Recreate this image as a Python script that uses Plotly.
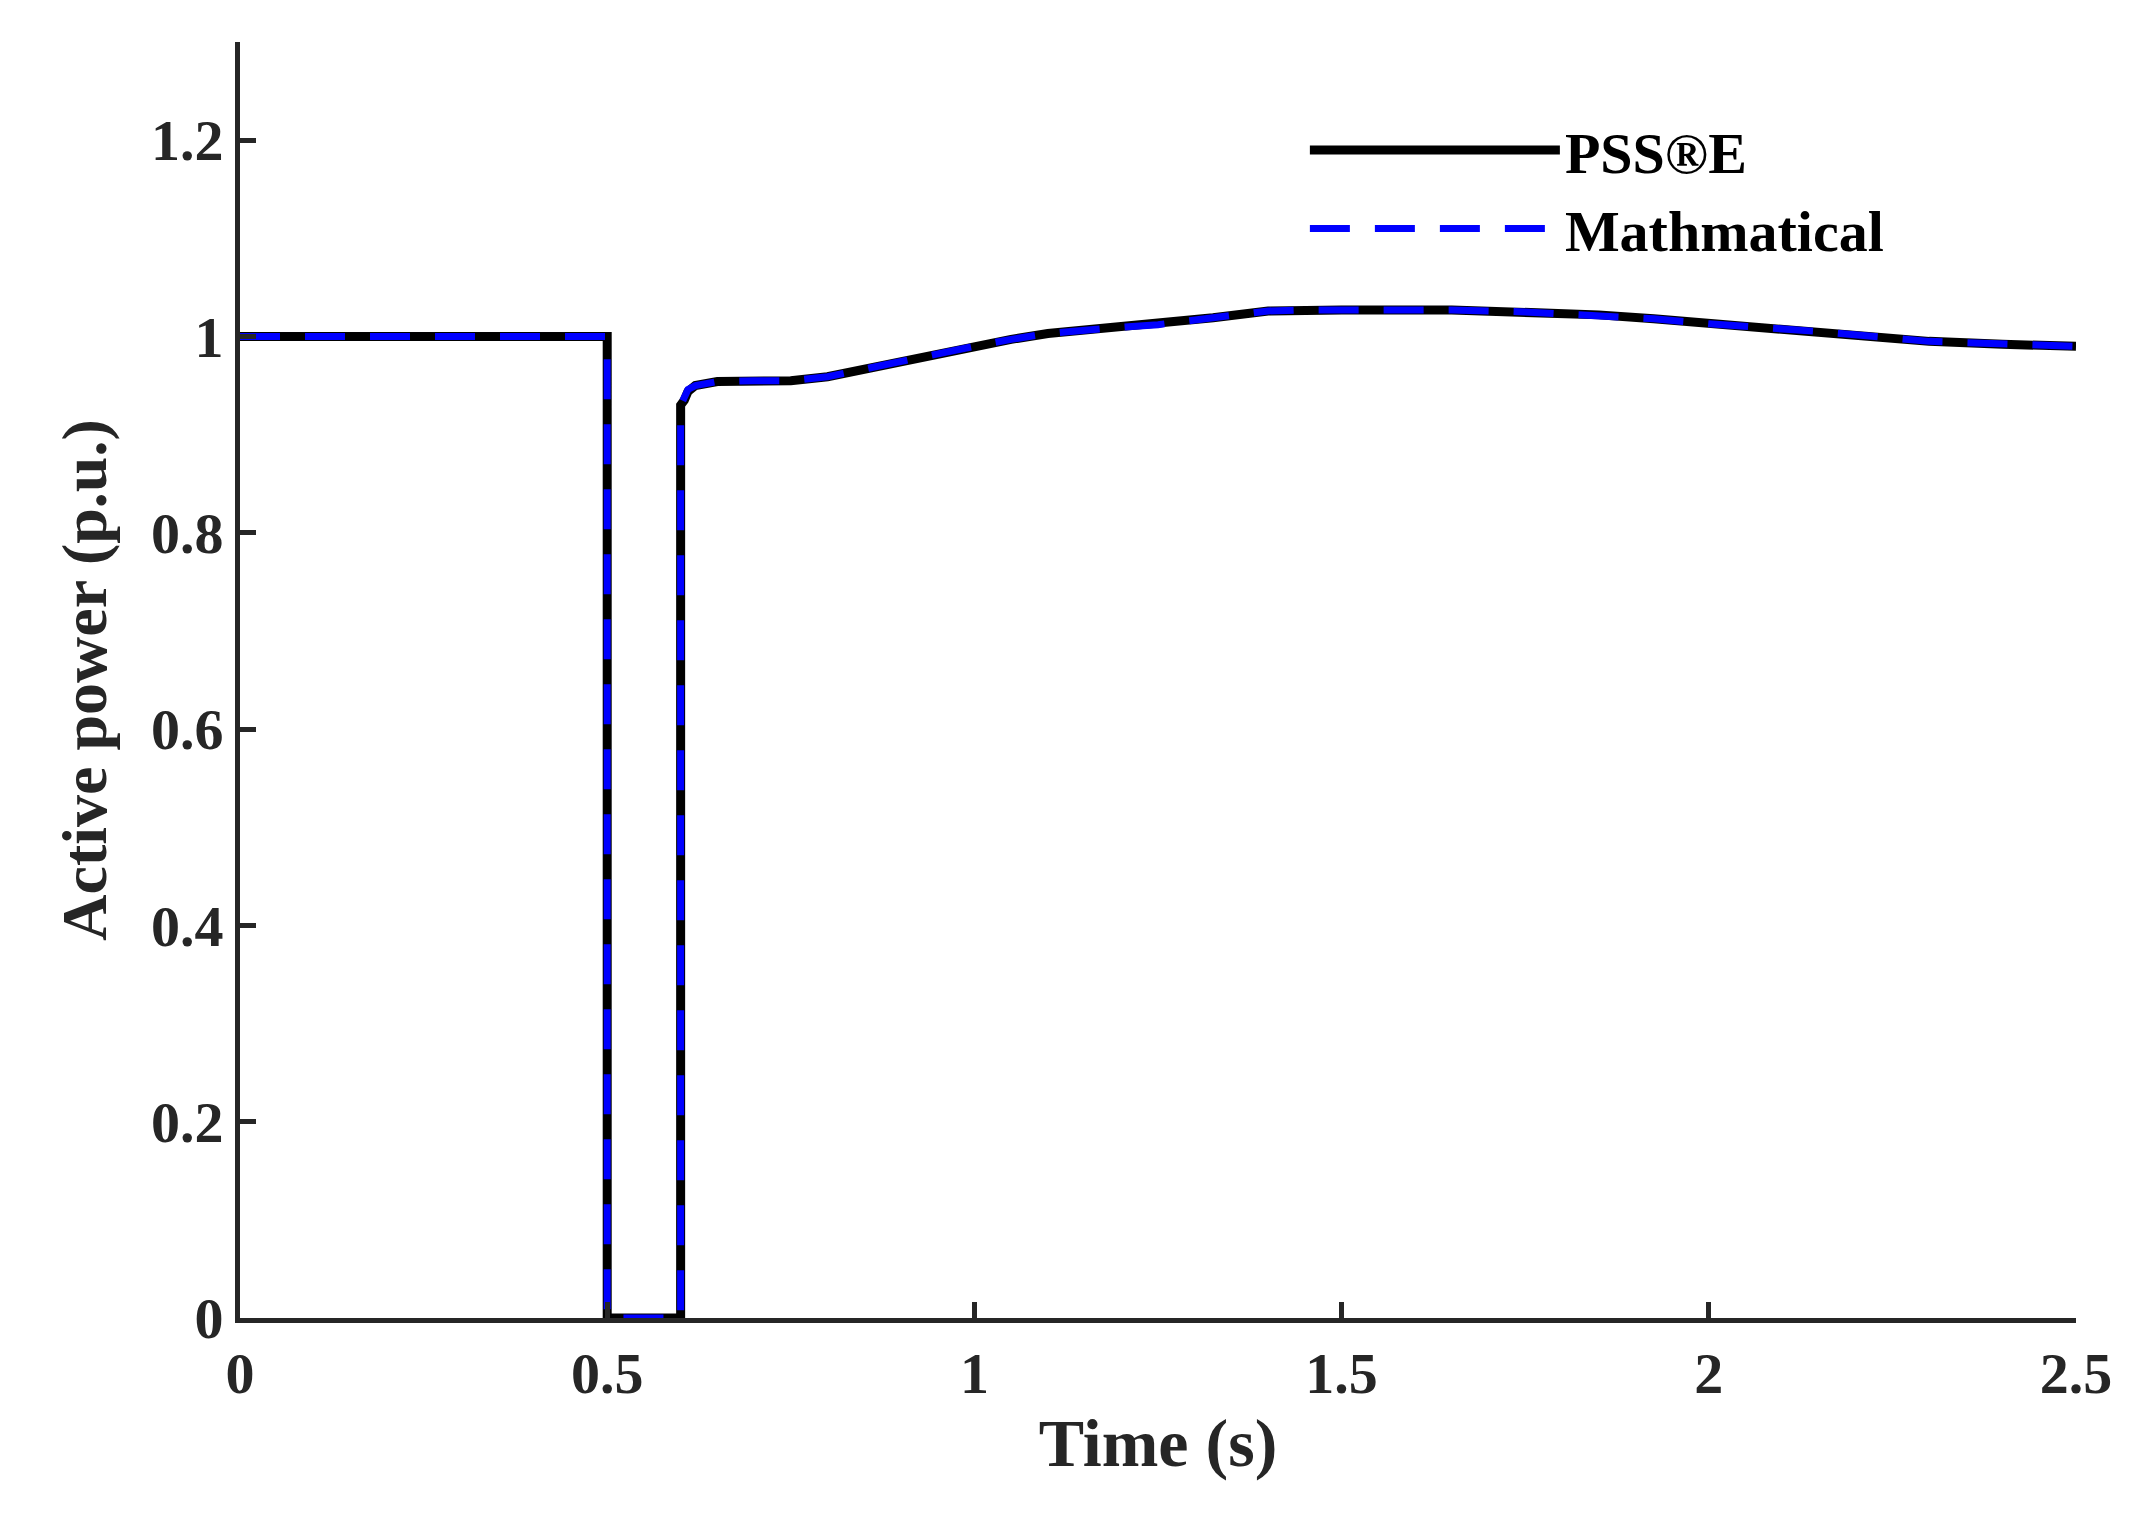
import plotly.graph_objects as go

t = [0, 0.5, 0.5, 0.6, 0.6, 0.605, 0.61, 0.62, 0.65, 0.7, 0.75, 0.8, 0.85, 0.9, 0.95, 1.0, 1.05, 1.1, 1.175, 1.25, 1.325, 1.4, 1.45, 1.5, 1.65, 1.75, 1.85, 1.925, 2.0, 2.15, 2.3, 2.4, 2.5]
p_psse = [1, 1, 0, 0, 0.93, 0.935, 0.944, 0.95, 0.954, 0.955, 0.955, 0.959, 0.967, 0.975, 0.983, 0.99, 0.997, 1.003, 1.008, 1.012, 1.019, 1.026, 1.027, 1.027, 1.027, 1.025, 1.022, 1.018, 1.013, 1.005, 0.995, 0.992, 0.99]
p_math = [1, 1, 0, 0, 0.93, 0.94, 0.946, 0.95, 0.954, 0.955, 0.955, 0.959, 0.967, 0.975, 0.983, 0.99, 0.997, 1.003, 1.008, 1.012, 1.019, 1.026, 1.027, 1.027, 1.027, 1.025, 1.022, 1.018, 1.013, 1.005, 0.995, 0.992, 0.99]

font = "Liberation Serif"
fig = go.Figure()
fig.add_trace(go.Scatter(x=t, y=p_psse, mode="lines", name="<b>PSS®E</b>",
                         line=dict(color="black", width=9)))
fig.add_trace(go.Scatter(x=t, y=p_math, mode="lines", name="<b>Mathmatical</b>",
                         line=dict(color="#0000ff", width=7, dash="40px,25px")))
ax = dict(showline=True, linecolor="#262626", linewidth=5, ticks="inside", ticklen=16,
          tickwidth=5, tickcolor="#262626", showgrid=False, zeroline=False, mirror=False,
          tickfont=dict(family=font, size=58, color="#262626", weight="bold"))
fig.update_layout(
    width=2139, height=1532, plot_bgcolor="white", paper_bgcolor="white",
    margin=dict(l=232, r=71, t=34, b=222),
    font=dict(family=font, color="#262626"),
    xaxis=dict(range=[0, 2.5], tickvals=[0, 0.5, 1, 1.5, 2, 2.5], ticktext=["0", "0.5", "1", "1.5", "2", "2.5"],
               title=dict(text="<b>Time (s)</b>", font=dict(size=68, family=font)), **ax),
    yaxis=dict(range=[0, 1.3], tickvals=[0, 0.2, 0.4, 0.6, 0.8, 1, 1.2], ticktext=["0", "0.2", "0.4", "0.6", "0.8", "1", "1.2"],
               title=dict(text="<b>Active power (p.u.)</b>", font=dict(size=64, family=font), standoff=25), **ax),
    legend=dict(x=0.58, y=0.95, xanchor="left", yanchor="top", bgcolor="rgba(0,0,0,0)",
                font=dict(family=font, size=58, color="black"), itemwidth=250),
)
fig.write_html("out.html")
